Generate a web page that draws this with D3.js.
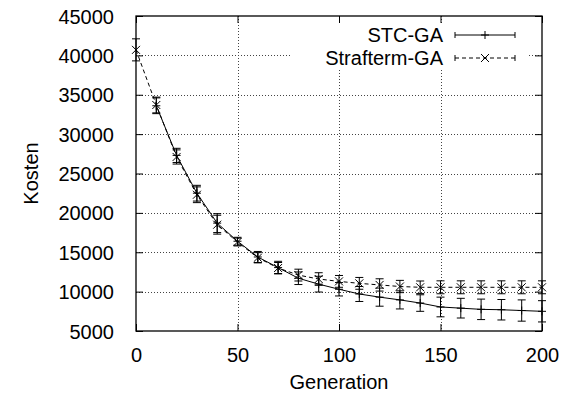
<!DOCTYPE html>
<html>
<head>
<meta charset="utf-8">
<script src="https://cdn.jsdelivr.net/npm/d3@7"></script>
<style>
  html, body { margin: 0; padding: 0; background: #fff; }
  text { font-family: "Liberation Sans", Arial, sans-serif; fill: #000; }
</style>
</head>
<body>
<svg id="chart" width="572" height="399"></svg>
<script>
// ---- data ----
const stcGenerations = [10,20,30,40,50,60,70,80,90,100,110,120,130,140,150,160,170,180,190,200];
const stcCost = [33600,27300,22500,18700,16400,14400,13050,11700,10950,10300,9700,9300,8950,8550,8050,7900,7750,7700,7600,7500];
const stcError = [1000,900,1000,1200,500,700,800,800,1000,850,950,1150,1150,1050,1250,1250,1300,1300,1350,1350];

const penGenerations = [0,10,20,30,40,50,60,70,80,90,100,110,120,130,140,150,160,170,180,190,200];
const penCost = [40700,33700,27100,22300,18500,16300,14300,13000,12100,11600,11300,11050,10850,10650,10550,10550,10550,10550,10550,10550,10550];
const penError = [1400,1000,900,1000,1200,500,650,700,750,800,750,750,780,780,800,820,820,820,820,820,820];

const xTicks = [0,50,100,150,200];
const yTicks = [5000,10000,15000,20000,25000,30000,35000,40000,45000];
const seriesNames = ["STC-GA", "Strafterm-GA"];

// ---- layout ----
const svg = d3.select("#chart");
const X0 = 136, X1 = 542, Y0 = 331, Y1 = 16;
const x = d3.scaleLinear().domain([0, 200]).range([X0, X1]);
const y = d3.scaleLinear().domain([5000, 45000]).range([Y0, Y1]);
const FS = 20;

// grid
const grid = svg.append("g").attr("stroke", "#444").attr("stroke-width", 1).attr("stroke-dasharray", "1,2");
xTicks.slice(1, -1).forEach(t => {
  grid.append("line").attr("x1", Math.round(x(t)) + 0.5).attr("x2", Math.round(x(t)) + 0.5)
    .attr("y1", Y1).attr("y2", Y0);
});
yTicks.slice(1, -1).forEach(t => {
  grid.append("line").attr("y1", Math.round(y(t)) + 0.5).attr("y2", Math.round(y(t)) + 0.5)
    .attr("x1", X0).attr("x2", X1);
});

// legend background (covers grid)
svg.append("rect").attr("x", 290).attr("y", 23).attr("width", 239).attr("height", 45).attr("fill", "#fff");

// axes via d3 (ticks inward), mirrored
const tl = 7;
const axB = svg.append("g").attr("transform", `translate(0,${Y0})`)
  .call(d3.axisBottom(x).tickValues(xTicks).tickSize(-tl).tickPadding(tl + 10).tickFormat(d3.format("d")));
const axT = svg.append("g").attr("transform", `translate(0,${Y1})`)
  .call(d3.axisTop(x).tickValues(xTicks).tickSize(-tl).tickFormat(""));
const axL = svg.append("g").attr("transform", `translate(${X0},0)`)
  .call(d3.axisLeft(y).tickValues(yTicks).tickSize(-tl).tickPadding(tl + 15).tickFormat(d3.format("d")));
const axR = svg.append("g").attr("transform", `translate(${X1},0)`)
  .call(d3.axisRight(y).tickValues(yTicks).tickSize(-tl).tickFormat(""));
[axB, axT, axL, axR].forEach(a => {
  a.select(".domain").remove();
  a.selectAll("line").attr("stroke", "#000").attr("stroke-width", 1);
  a.selectAll("text").attr("font-size", FS).attr("font-family", "Liberation Sans, Arial, sans-serif");
});
axB.selectAll("text").attr("dy", "0.71em");
axL.selectAll("text").attr("dy", "0.35em");

// frame
svg.append("rect").attr("x", X0).attr("y", Y1).attr("width", X1 - X0).attr("height", Y0 - Y1)
  .attr("fill", "none").attr("stroke", "#000").attr("stroke-width", 1.3);

// axis titles
svg.append("text").attr("x", (X0 + X1) / 2).attr("y", 389).attr("text-anchor", "middle")
  .attr("font-size", FS).text("Generation");
svg.append("text").attr("transform", `translate(38,${(Y0 + Y1) / 2}) rotate(-90)`)
  .attr("text-anchor", "middle").attr("font-size", FS).text("Kosten");

// series drawing
const cap = 4, ms = 4;
function drawSeries(gens, vals, errs, dash, marker) {
  const g = svg.append("g");
  const line = d3.line().x((d, i) => x(gens[i])).y(d => y(d));
  g.append("path").datum(vals).attr("d", line).attr("fill", "none").attr("stroke", "#000")
    .attr("stroke-width", 1).attr("stroke-dasharray", dash);
  vals.forEach((v, i) => {
    const cx = x(gens[i]), top = y(v + errs[i]), bot = y(v - errs[i]);
    g.append("line").attr("x1", cx).attr("x2", cx).attr("y1", top).attr("y2", bot).attr("stroke", "#000").attr("stroke-width", 1);
    g.append("line").attr("x1", cx - cap).attr("x2", cx + cap).attr("y1", top).attr("y2", top).attr("stroke", "#000").attr("stroke-width", 1);
    g.append("line").attr("x1", cx - cap).attr("x2", cx + cap).attr("y1", bot).attr("y2", bot).attr("stroke", "#000").attr("stroke-width", 1);
    marker(g, cx, y(v));
  });
}
function plus(g, cx, cy) {
  g.append("path").attr("d", `M${cx - ms},${cy}H${cx + ms}M${cx},${cy - ms}V${cy + ms}`).attr("stroke", "#000").attr("stroke-width", 1);
}
function cross(g, cx, cy) {
  g.append("path").attr("d", `M${cx - ms},${cy - ms}L${cx + ms},${cy + ms}M${cx - ms},${cy + ms}L${cx + ms},${cy - ms}`).attr("stroke", "#000").attr("stroke-width", 1);
}

drawSeries(stcGenerations, stcCost, stcError, null, plus);
drawSeries(penGenerations, penCost, penError, "4,3", cross);

// legend
const legRows = [35, 58];
const markers = [plus, cross];
const dashes = [null, "4,3"];
seriesNames.forEach((name, i) => {
  const ly = legRows[i];
  svg.append("text").attr("x", 443).attr("y", ly).attr("dy", "0.35em").attr("text-anchor", "end")
    .attr("font-size", FS).text(name);
  svg.append("line").attr("x1", 455).attr("x2", 515).attr("y1", ly).attr("y2", ly)
    .attr("stroke", "#000").attr("stroke-width", 1).attr("stroke-dasharray", dashes[i]);
  [455, 515].forEach(ex => svg.append("line").attr("x1", ex).attr("x2", ex).attr("y1", ly - 3).attr("y2", ly + 3)
    .attr("stroke", "#000").attr("stroke-width", 1));
  markers[i](svg, 485, ly);
});
</script>
</body>
</html>
